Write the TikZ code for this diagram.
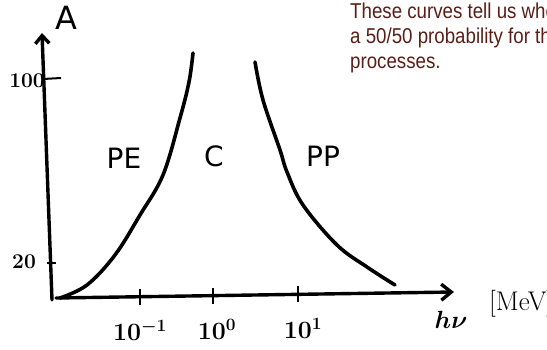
\documentclass[tikz,border=0pt]{standalone}
\usepackage{fontspec}
\setsansfont{DejaVu Sans}
\newfontfamily\slidefont[FakeStretch=0.87]{Liberation Sans}
\usetikzlibrary{arrows.meta}
\definecolor{slidetext}{RGB}{90,30,22}
\tikzset{
  axisline/.style={line width=3.4pt, line cap=round},
  curveline/.style={line width=3.6pt, line cap=round},
  tickline/.style={line width=2pt},
  hand/.style={font=\sffamily\fontsize{28}{28}\selectfont, inner sep=0pt},
  ticklab/.style={font=\bfseries\boldmath\fontsize{23}{23}\selectfont, inner sep=0pt},
  slide/.style={font=\slidefont\fontsize{21.5}{25}\selectfont, text=slidetext, align=left, anchor=north west, inner sep=0pt}
}
\begin{document}
\begin{tikzpicture}[x=1pt,y=-1pt]
\useasboundingbox (0,0) rectangle (547,350);
\clip (0,0) rectangle (547,350);
% axes
\coordinate (yb) at (52,300);
\coordinate (yt) at (42,33);
\coordinate (xb) at (56,298);
\coordinate (xt) at (454,292);
\draw[axisline, -{Straight Barb[length=8pt,width=14pt]}] (yb) -- (yt);
\draw[axisline, -{Straight Barb[length=10pt,width=16pt]}] (xb) -- (xt);
% y ticks
\coordinate (t100a) at (43,79); \coordinate (t100b) at (61,78);
\coordinate (t20a) at (47,263); \coordinate (t20b) at (56,263);
\draw[tickline] (t100a) -- (t100b);
\draw[tickline] (t20a) -- (t20b);
% x ticks
\coordinate (xa1) at (140,289); \coordinate (xa2) at (140,305);
\coordinate (xb1) at (213,288); \coordinate (xb2) at (213,304);
\coordinate (xc1) at (298,286); \coordinate (xc2) at (298,302);
\draw[tickline] (xa1) -- (xa2);
\draw[tickline] (xb1) -- (xb2);
\draw[tickline] (xc1) -- (xc2);
% labels
\node[hand, font=\sffamily\fontsize{32}{32}\selectfont] (A) at (66,18) {A};
\node[ticklab, font=\bfseries\fontsize{21}{21}\selectfont] (l100) at (27,81) {100};
\node[ticklab, font=\bfseries\fontsize{21}{21}\selectfont] (l20) at (24,262) {20};
\node[ticklab] (lm1) at (140,330) {$10^{-1}$};
\node[ticklab] (l0) at (217,329) {$10^{0}$};
\node[ticklab] (l1) at (303,328) {$10^{1}$};
\node[font=\boldmath\fontsize{32}{32}\selectfont, inner sep=0pt] (hnu) at (451,320) {$h\nu$};
\node[font=\fontsize{27}{27}\selectfont, inner sep=0pt, anchor=west] (mev) at (489,304) {[MeV]};
\node[hand] (PE) at (124,158) {PE};
\node[hand] (C) at (214,156) {C};
\node[hand] (PP) at (323,156) {PP};
% curves
\draw[curveline] plot[smooth, tension=0.6] coordinates {(60,298) (87,285) (115,255) (140,215) (163,175) (180,118) (189,82) (193,53)};
\draw[curveline] plot[smooth, tension=0.6] coordinates {(255,62) (263,100) (280,150) (287,172) (303,205) (337,245) (367,267) (395,285)};
% slide text
\node[slide] (txt) at (350,3) {These curves tell us where there\\a 50/50 probability for the two\\processes.};
\end{tikzpicture}
\end{document}
